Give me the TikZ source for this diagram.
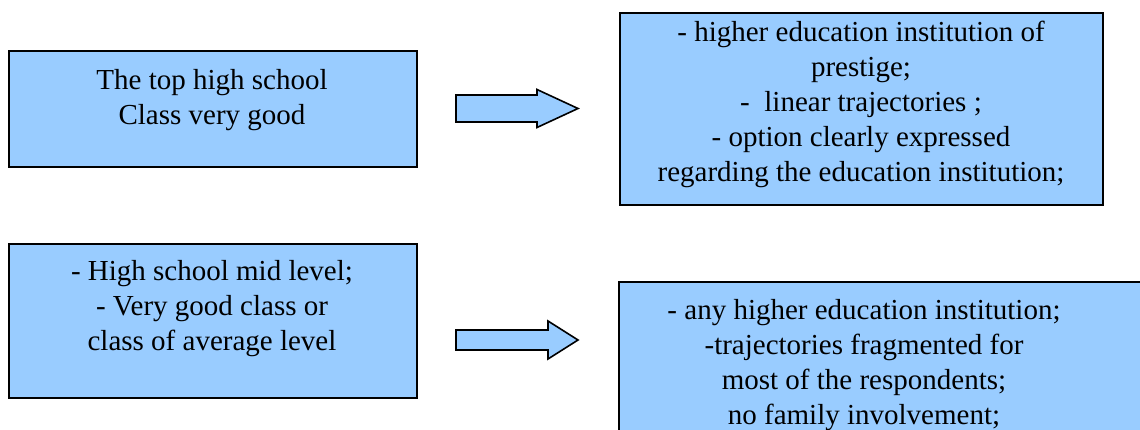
\documentclass[tikz,border=0pt]{standalone}
\usepackage{fontspec}
\newfontfamily\boxfont{Liberation Serif}
\usepackage{tikz}
\definecolor{boxblue}{HTML}{99CCFF}

\begin{document}
\begin{tikzpicture}[x=1pt,y=-1pt,
  blk/.style n args={2}{draw,line width=1.6pt,fill=boxblue,rectangle,anchor=north west,inner sep=0pt,minimum width=#1pt,minimum height=#2pt},
  txt/.style={anchor=north,inner sep=0pt,align=center,font=\boxfont\fontsize{29}{35}\selectfont},
  arrowbox/.style={draw,line width=1.6pt,fill=boxblue,line join=miter}]
\useasboundingbox (0,0) rectangle (1140,430);
\clip (0,0) rectangle (1140,430);
% left column
\node[blk={408}{116}] (top) at (8,50) {};
\node[blk={408}{154}] (mid) at (8,243) {};
\node[txt] (toptxt) at (212,69.5) {The top high school\\ Class very good};
\node[txt] (midtxt) at (212,260) {- High school mid level;\\ - Very good class or\\ class of average level};
% right column
\node[blk={483}{192}] (pres) at (619,12) {};
\node[blk={540}{165}] (any) at (618,281) {};
\node[txt] (prestxt) at (861,21) {- higher education institution of\\ prestige;\\ -\ \ linear trajectories ;\\ - option clearly expressed\\ regarding the education institution;};
\node[txt] (anytxt) at (864,299) {- any higher education institution;\\ -trajectories fragmented for\\ most of the respondents;\\ no family involvement;};
% block arrows
\foreach \yc/\sh/\hx/\hh in {108.5/13.5/537/19, 340/10/548/19}
  \draw[arrowbox] (456,\yc-\sh) -- (\hx,\yc-\sh) -- (\hx,\yc-\hh) -- (578,\yc)
     -- (\hx,\yc+\hh) -- (\hx,\yc+\sh) -- (456,\yc+\sh) -- cycle;
\end{tikzpicture}
\end{document}
